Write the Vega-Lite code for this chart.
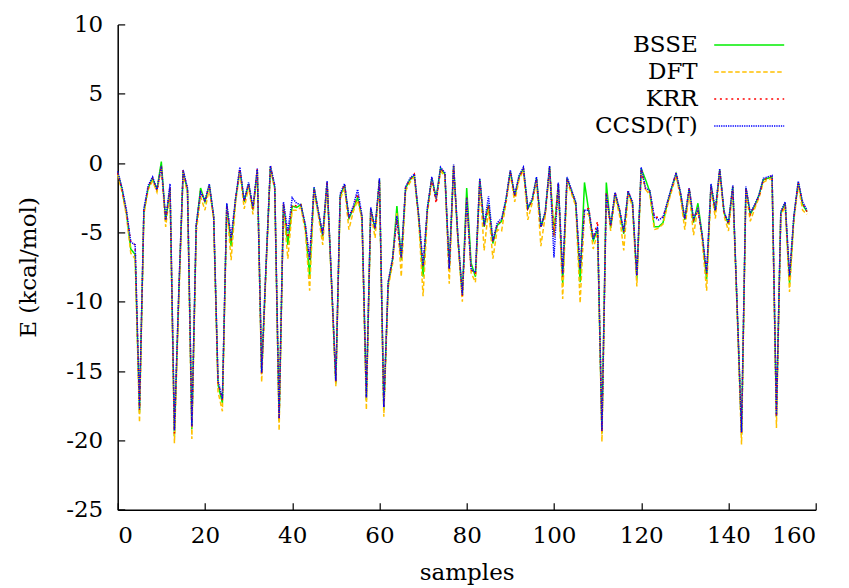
{
  "$schema": "https://vega.github.io/schema/vega-lite/v6.json",
  "width": 698,
  "height": 485.3,
  "autosize": "none",
  "padding": {"left": 117.7, "top": 24.4, "right": 33.3, "bottom": 78.3},
  "background": "white",
  "config": {
    "view": {"stroke": null},
    "font": "DejaVu Serif",
    "axis": {
      "grid": false,
      "domainColor": "black",
      "domainWidth": 1.5,
      "tickColor": "black",
      "tickWidth": 1.2,
      "tickSize": -7,
      "labelFont": "DejaVu Serif",
      "labelFontSize": 23,
      "labelColor": "black",
      "labelExpr": "'' + datum.value",
      "titleFont": "DejaVu Serif",
      "titleFontSize": 23,
      "titleFontWeight": "normal",
      "titleColor": "black"
    },
    "legend": {
      "labelFont": "DejaVu Serif",
      "labelFontSize": 23,
      "labelColor": "black"
    }
  },
  "data": {
    "values": [
      {"i":0,"BSSE":-0.7,"DFT":-0.8,"KRR":-0.7,"CCSD":-0.6},
      {"i":1,"BSSE":-1.9,"DFT":-2.1,"KRR":-1.9,"CCSD":-1.8},
      {"i":2,"BSSE":-3.6,"DFT":-3.8,"KRR":-3.5,"CCSD":-3.4},
      {"i":3,"BSSE":-6.2,"DFT":-6.5,"KRR":-5.7,"CCSD":-5.7},
      {"i":4,"BSSE":-6.6,"DFT":-6.9,"KRR":-5.9,"CCSD":-5.9},
      {"i":5,"BSSE":-18.0,"DFT":-18.7,"KRR":-17.8,"CCSD":-17.7},
      {"i":6,"BSSE":-3.5,"DFT":-3.7,"KRR":-3.4,"CCSD":-3.3},
      {"i":7,"BSSE":-1.8,"DFT":-1.9,"KRR":-1.7,"CCSD":-1.6},
      {"i":8,"BSSE":-1.1,"DFT":-1.3,"KRR":-1.1,"CCSD":-1.0},
      {"i":9,"BSSE":-1.9,"DFT":-2.1,"KRR":-2.0,"CCSD":-1.9},
      {"i":10,"BSSE":0.1,"DFT":-0.3,"KRR":-0.2,"CCSD":-0.2},
      {"i":11,"BSSE":-4.2,"DFT":-4.6,"KRR":-4.2,"CCSD":-4.1},
      {"i":12,"BSSE":-1.8,"DFT":-2.0,"KRR":-1.7,"CCSD":-1.5},
      {"i":13,"BSSE":-19.7,"DFT":-20.2,"KRR":-19.5,"CCSD":-19.3},
      {"i":14,"BSSE":-9.5,"DFT":-10.0,"KRR":-9.4,"CCSD":-9.3},
      {"i":15,"BSSE":-0.6,"DFT":-0.7,"KRR":-0.5,"CCSD":-0.5},
      {"i":16,"BSSE":-2.0,"DFT":-2.2,"KRR":-1.9,"CCSD":-1.8},
      {"i":17,"BSSE":-19.2,"DFT":-19.9,"KRR":-19.1,"CCSD":-19.0},
      {"i":18,"BSSE":-4.6,"DFT":-5.0,"KRR":-4.5,"CCSD":-4.4},
      {"i":19,"BSSE":-1.8,"DFT":-2.4,"KRR":-2.0,"CCSD":-2.1},
      {"i":20,"BSSE":-2.8,"DFT":-3.4,"KRR":-2.8,"CCSD":-2.7},
      {"i":21,"BSSE":-1.6,"DFT":-1.8,"KRR":-1.6,"CCSD":-1.5},
      {"i":22,"BSSE":-3.9,"DFT":-4.1,"KRR":-3.9,"CCSD":-3.8},
      {"i":23,"BSSE":-16.0,"DFT":-16.5,"KRR":-15.8,"CCSD":-15.7},
      {"i":24,"BSSE":-17.3,"DFT":-17.9,"KRR":-17.1,"CCSD":-17.0},
      {"i":25,"BSSE":-3.0,"DFT":-3.2,"KRR":-3.0,"CCSD":-2.9},
      {"i":26,"BSSE":-6.0,"DFT":-7.0,"KRR":-5.6,"CCSD":-5.4},
      {"i":27,"BSSE":-2.7,"DFT":-2.9,"KRR":-2.6,"CCSD":-2.6},
      {"i":28,"BSSE":-0.5,"DFT":-0.6,"KRR":-0.4,"CCSD":-0.3},
      {"i":29,"BSSE":-2.8,"DFT":-3.3,"KRR":-2.8,"CCSD":-2.7},
      {"i":30,"BSSE":-1.5,"DFT":-1.7,"KRR":-1.5,"CCSD":-1.4},
      {"i":31,"BSSE":-3.4,"DFT":-3.7,"KRR":-3.3,"CCSD":-3.2},
      {"i":32,"BSSE":-0.5,"DFT":-0.6,"KRR":-0.4,"CCSD":-0.4},
      {"i":33,"BSSE":-15.2,"DFT":-15.8,"KRR":-15.2,"CCSD":-15.1},
      {"i":34,"BSSE":-7.5,"DFT":-7.8,"KRR":-7.4,"CCSD":-7.4},
      {"i":35,"BSSE":-0.3,"DFT":-0.4,"KRR":-0.2,"CCSD":-0.2},
      {"i":36,"BSSE":-1.8,"DFT":-1.9,"KRR":-1.7,"CCSD":-1.6},
      {"i":37,"BSSE":-18.6,"DFT":-19.3,"KRR":-18.5,"CCSD":-18.4},
      {"i":38,"BSSE":-3.0,"DFT":-3.2,"KRR":-2.9,"CCSD":-2.8},
      {"i":39,"BSSE":-5.9,"DFT":-6.9,"KRR":-5.4,"CCSD":-5.0},
      {"i":40,"BSSE":-3.1,"DFT":-3.4,"KRR":-3.0,"CCSD":-2.5},
      {"i":41,"BSSE":-3.2,"DFT":-3.4,"KRR":-3.1,"CCSD":-2.9},
      {"i":42,"BSSE":-3.0,"DFT":-3.2,"KRR":-3.0,"CCSD":-3.0},
      {"i":43,"BSSE":-4.6,"DFT":-4.9,"KRR":-4.5,"CCSD":-4.4},
      {"i":44,"BSSE":-8.2,"DFT":-9.2,"KRR":-7.0,"CCSD":-6.9},
      {"i":45,"BSSE":-1.8,"DFT":-2.0,"KRR":-1.8,"CCSD":-1.7},
      {"i":46,"BSSE":-3.6,"DFT":-3.8,"KRR":-3.5,"CCSD":-3.5},
      {"i":47,"BSSE":-5.3,"DFT":-5.9,"KRR":-5.2,"CCSD":-5.1},
      {"i":48,"BSSE":-1.4,"DFT":-1.5,"KRR":-1.3,"CCSD":-1.3},
      {"i":49,"BSSE":-8.5,"DFT":-8.8,"KRR":-8.4,"CCSD":-8.4},
      {"i":50,"BSSE":-15.9,"DFT":-16.1,"KRR":-15.8,"CCSD":-15.7},
      {"i":51,"BSSE":-2.4,"DFT":-2.6,"KRR":-2.3,"CCSD":-2.2},
      {"i":52,"BSSE":-1.6,"DFT":-1.8,"KRR":-1.5,"CCSD":-1.5},
      {"i":53,"BSSE":-4.0,"DFT":-4.8,"KRR":-4.0,"CCSD":-3.9},
      {"i":54,"BSSE":-3.3,"DFT":-3.5,"KRR":-3.2,"CCSD":-3.1},
      {"i":55,"BSSE":-2.5,"DFT":-2.7,"KRR":-2.2,"CCSD":-1.9},
      {"i":56,"BSSE":-3.9,"DFT":-4.1,"KRR":-3.9,"CCSD":-3.8},
      {"i":57,"BSSE":-17.1,"DFT":-17.8,"KRR":-17.0,"CCSD":-16.9},
      {"i":58,"BSSE":-3.3,"DFT":-3.5,"KRR":-3.3,"CCSD":-3.2},
      {"i":59,"BSSE":-4.8,"DFT":-5.4,"KRR":-4.8,"CCSD":-4.7},
      {"i":60,"BSSE":-1.2,"DFT":-1.4,"KRR":-1.2,"CCSD":-1.1},
      {"i":61,"BSSE":-17.8,"DFT":-18.3,"KRR":-17.7,"CCSD":-17.6},
      {"i":62,"BSSE":-8.7,"DFT":-9.0,"KRR":-8.6,"CCSD":-8.6},
      {"i":63,"BSSE":-7.0,"DFT":-7.3,"KRR":-6.9,"CCSD":-6.9},
      {"i":64,"BSSE":-3.1,"DFT":-3.6,"KRR":-4.1,"CCSD":-3.8},
      {"i":65,"BSSE":-7.0,"DFT":-8.2,"KRR":-6.9,"CCSD":-6.8},
      {"i":66,"BSSE":-1.8,"DFT":-2.0,"KRR":-1.7,"CCSD":-1.7},
      {"i":67,"BSSE":-1.2,"DFT":-1.4,"KRR":-1.2,"CCSD":-1.1},
      {"i":68,"BSSE":-0.9,"DFT":-1.0,"KRR":-0.8,"CCSD":-0.8},
      {"i":69,"BSSE":-3.9,"DFT":-4.2,"KRR":-3.9,"CCSD":-3.8},
      {"i":70,"BSSE":-8.2,"DFT":-9.6,"KRR":-7.5,"CCSD":-7.4},
      {"i":71,"BSSE":-3.3,"DFT":-3.6,"KRR":-3.3,"CCSD":-3.2},
      {"i":72,"BSSE":-1.1,"DFT":-1.3,"KRR":-1.1,"CCSD":-1.0},
      {"i":73,"BSSE":-2.5,"DFT":-2.7,"KRR":-2.9,"CCSD":-2.6},
      {"i":74,"BSSE":-0.4,"DFT":-0.6,"KRR":-0.4,"CCSD":-0.3},
      {"i":75,"BSSE":-0.8,"DFT":-0.9,"KRR":-0.7,"CCSD":-0.7},
      {"i":76,"BSSE":-7.7,"DFT":-8.7,"KRR":-7.7,"CCSD":-7.6},
      {"i":77,"BSSE":-0.2,"DFT":-0.3,"KRR":-0.2,"CCSD":-0.1},
      {"i":78,"BSSE":-5.5,"DFT":-5.8,"KRR":-5.4,"CCSD":-5.4},
      {"i":79,"BSSE":-9.6,"DFT":-10.0,"KRR":-9.6,"CCSD":-9.5},
      {"i":80,"BSSE":-1.8,"DFT":-2.6,"KRR":-2.5,"CCSD":-2.5},
      {"i":81,"BSSE":-7.2,"DFT":-7.9,"KRR":-7.7,"CCSD":-7.6},
      {"i":82,"BSSE":-8.2,"DFT":-8.6,"KRR":-8.0,"CCSD":-7.9},
      {"i":83,"BSSE":-1.2,"DFT":-1.4,"KRR":-1.2,"CCSD":-1.1},
      {"i":84,"BSSE":-4.6,"DFT":-6.3,"KRR":-4.6,"CCSD":-4.5},
      {"i":85,"BSSE":-3.0,"DFT":-3.3,"KRR":-3.0,"CCSD":-2.4},
      {"i":86,"BSSE":-5.8,"DFT":-6.9,"KRR":-5.7,"CCSD":-5.6},
      {"i":87,"BSSE":-4.5,"DFT":-4.8,"KRR":-4.4,"CCSD":-4.3},
      {"i":88,"BSSE":-4.2,"DFT":-4.9,"KRR":-4.2,"CCSD":-4.0},
      {"i":89,"BSSE":-2.7,"DFT":-2.9,"KRR":-2.7,"CCSD":-2.6},
      {"i":90,"BSSE":-0.6,"DFT":-0.8,"KRR":-0.6,"CCSD":-0.5},
      {"i":91,"BSSE":-2.4,"DFT":-2.8,"KRR":-2.4,"CCSD":-2.3},
      {"i":92,"BSSE":-1.0,"DFT":-1.2,"KRR":-1.0,"CCSD":-0.9},
      {"i":93,"BSSE":-0.4,"DFT":-0.5,"KRR":-0.4,"CCSD":-0.3},
      {"i":94,"BSSE":-3.3,"DFT":-4.1,"KRR":-3.3,"CCSD":-3.2},
      {"i":95,"BSSE":-2.7,"DFT":-2.9,"KRR":-2.7,"CCSD":-2.6},
      {"i":96,"BSSE":-1.1,"DFT":-1.3,"KRR":-1.1,"CCSD":-1.0},
      {"i":97,"BSSE":-4.6,"DFT":-6.0,"KRR":-4.7,"CCSD":-4.6},
      {"i":98,"BSSE":-3.6,"DFT":-3.8,"KRR":-3.6,"CCSD":-3.5},
      {"i":99,"BSSE":-0.3,"DFT":-0.5,"KRR":-0.3,"CCSD":-0.2},
      {"i":100,"BSSE":-5.1,"DFT":-5.4,"KRR":-5.2,"CCSD":-6.8},
      {"i":101,"BSSE":-1.5,"DFT":-1.7,"KRR":-1.4,"CCSD":-1.4},
      {"i":102,"BSSE":-8.7,"DFT":-9.8,"KRR":-8.2,"CCSD":-8.0},
      {"i":103,"BSSE":-1.1,"DFT":-1.3,"KRR":-1.1,"CCSD":-1.0},
      {"i":104,"BSSE":-2.0,"DFT":-2.2,"KRR":-2.0,"CCSD":-1.9},
      {"i":105,"BSSE":-2.9,"DFT":-3.1,"KRR":-2.9,"CCSD":-2.8},
      {"i":106,"BSSE":-8.6,"DFT":-10.1,"KRR":-7.7,"CCSD":-7.6},
      {"i":107,"BSSE":-1.4,"DFT":-3.6,"KRR":-3.3,"CCSD":-3.4},
      {"i":108,"BSSE":-3.5,"DFT":-3.7,"KRR":-3.3,"CCSD":-3.4},
      {"i":109,"BSSE":-5.6,"DFT":-6.2,"KRR":-5.4,"CCSD":-5.5},
      {"i":110,"BSSE":-4.8,"DFT":-5.0,"KRR":-4.2,"CCSD":-4.6},
      {"i":111,"BSSE":-19.5,"DFT":-20.1,"KRR":-19.4,"CCSD":-19.3},
      {"i":112,"BSSE":-1.4,"DFT":-2.2,"KRR":-2.1,"CCSD":-2.2},
      {"i":113,"BSSE":-4.7,"DFT":-4.9,"KRR":-4.6,"CCSD":-4.5},
      {"i":114,"BSSE":-2.2,"DFT":-2.4,"KRR":-2.1,"CCSD":-2.1},
      {"i":115,"BSSE":-3.4,"DFT":-3.7,"KRR":-3.3,"CCSD":-3.3},
      {"i":116,"BSSE":-5.1,"DFT":-6.3,"KRR":-5.0,"CCSD":-4.9},
      {"i":117,"BSSE":-2.1,"DFT":-2.3,"KRR":-2.0,"CCSD":-2.0},
      {"i":118,"BSSE":-2.9,"DFT":-3.1,"KRR":-2.9,"CCSD":-2.8},
      {"i":119,"BSSE":-8.4,"DFT":-8.9,"KRR":-8.2,"CCSD":-8.1},
      {"i":120,"BSSE":-0.4,"DFT":-0.5,"KRR":-0.4,"CCSD":-0.3},
      {"i":121,"BSSE":-1.2,"DFT":-1.9,"KRR":-1.9,"CCSD":-1.8},
      {"i":122,"BSSE":-2.1,"DFT":-2.3,"KRR":-2.1,"CCSD":-2.0},
      {"i":123,"BSSE":-4.6,"DFT":-4.8,"KRR":-3.9,"CCSD":-3.9},
      {"i":124,"BSSE":-4.6,"DFT":-4.7,"KRR":-3.9,"CCSD":-4.1},
      {"i":125,"BSSE":-4.3,"DFT":-4.4,"KRR":-3.9,"CCSD":-3.9},
      {"i":126,"BSSE":-2.9,"DFT":-3.1,"KRR":-2.9,"CCSD":-2.8},
      {"i":127,"BSSE":-1.8,"DFT":-2.0,"KRR":-1.8,"CCSD":-1.7},
      {"i":128,"BSSE":-0.8,"DFT":-0.9,"KRR":-0.7,"CCSD":-0.7},
      {"i":129,"BSSE":-2.2,"DFT":-2.5,"KRR":-2.2,"CCSD":-2.1},
      {"i":130,"BSSE":-4.1,"DFT":-4.8,"KRR":-4.1,"CCSD":-4.0},
      {"i":131,"BSSE":-1.9,"DFT":-2.1,"KRR":-1.8,"CCSD":-1.8},
      {"i":132,"BSSE":-4.3,"DFT":-5.2,"KRR":-4.1,"CCSD":-4.0},
      {"i":133,"BSSE":-2.9,"DFT":-3.2,"KRR":-3.4,"CCSD":-3.3},
      {"i":134,"BSSE":-5.3,"DFT":-5.7,"KRR":-5.3,"CCSD":-5.2},
      {"i":135,"BSSE":-8.4,"DFT":-9.2,"KRR":-8.0,"CCSD":-7.9},
      {"i":136,"BSSE":-1.6,"DFT":-1.8,"KRR":-1.6,"CCSD":-1.5},
      {"i":137,"BSSE":-3.5,"DFT":-4.0,"KRR":-3.5,"CCSD":-3.4},
      {"i":138,"BSSE":-0.5,"DFT":-0.7,"KRR":-0.5,"CCSD":-0.4},
      {"i":139,"BSSE":-3.6,"DFT":-3.8,"KRR":-3.6,"CCSD":-3.5},
      {"i":140,"BSSE":-4.4,"DFT":-4.9,"KRR":-4.4,"CCSD":-4.3},
      {"i":141,"BSSE":-1.7,"DFT":-1.9,"KRR":-1.7,"CCSD":-1.6},
      {"i":142,"BSSE":-10.5,"DFT":-10.9,"KRR":-10.4,"CCSD":-10.4},
      {"i":143,"BSSE":-19.6,"DFT":-20.3,"KRR":-19.5,"CCSD":-19.4},
      {"i":144,"BSSE":-1.8,"DFT":-2.0,"KRR":-1.8,"CCSD":-1.7},
      {"i":145,"BSSE":-3.7,"DFT":-4.2,"KRR":-3.7,"CCSD":-3.6},
      {"i":146,"BSSE":-3.1,"DFT":-3.3,"KRR":-3.1,"CCSD":-3.0},
      {"i":147,"BSSE":-2.3,"DFT":-2.5,"KRR":-2.4,"CCSD":-2.3},
      {"i":148,"BSSE":-1.2,"DFT":-1.4,"KRR":-1.2,"CCSD":-1.1},
      {"i":149,"BSSE":-1.1,"DFT":-1.2,"KRR":-1.1,"CCSD":-1.0},
      {"i":150,"BSSE":-1.0,"DFT":-1.1,"KRR":-0.9,"CCSD":-0.9},
      {"i":151,"BSSE":-18.3,"DFT":-19.1,"KRR":-18.3,"CCSD":-18.2},
      {"i":152,"BSSE":-3.6,"DFT":-3.8,"KRR":-3.6,"CCSD":-3.5},
      {"i":153,"BSSE":-2.9,"DFT":-3.1,"KRR":-2.9,"CCSD":-2.8},
      {"i":154,"BSSE":-8.7,"DFT":-9.3,"KRR":-8.2,"CCSD":-8.1},
      {"i":155,"BSSE":-3.9,"DFT":-4.1,"KRR":-3.9,"CCSD":-3.8},
      {"i":156,"BSSE":-1.4,"DFT":-1.6,"KRR":-1.4,"CCSD":-1.3},
      {"i":157,"BSSE":-3.0,"DFT":-3.4,"KRR":-2.9,"CCSD":-2.8},
      {"i":158,"BSSE":-3.5,"DFT":-3.7,"KRR":-3.5,"CCSD":-3.4}
    ]
  },
  "transform": [
    {"fold": ["BSSE", "DFT", "KRR", "CCSD"], "as": ["series", "E"]}
  ],
  "encoding": {
    "x": {
      "field": "i", "type": "quantitative",
      "scale": {"domain": [0, 160], "nice": false, "zero": false},
      "axis": {
        "title": "samples",
        "values": [0, 20, 40, 60, 80, 100, 120, 140, 160],
        "labelPadding": 22,
        "titleY": 63,
        "titleBaseline": "middle"
      }
    },
    "y": {
      "field": "E", "type": "quantitative",
      "scale": {"domain": [-25, 10], "nice": false, "zero": false},
      "axis": {
        "title": "E (kcal/mol)",
        "values": [-25, -20, -15, -10, -5, 0, 5, 10],
        "labelPadding": 22,
        "titleX": -89.7,
        "titleY": 242.6,
        "titleAngle": -90,
        "titleAlign": "center",
        "titleBaseline": "middle"
      }
    },
    "color": {
      "field": "series", "type": "nominal",
      "scale": {
        "domain": ["BSSE", "DFT", "KRR", "CCSD"],
        "range": ["#00ee00", "#ffc000", "#ff0000", "#0000ff"]
      },
      "legend": {
        "title": null,
        "orient": "none",
        "legendX": 620,
        "legendY": 9,
        "symbolType": "M-7,0H7",
        "symbolSize": 100,
        "symbolStrokeWidth": 1.5,
        "labelAlign": "right",
        "labelOffset": -63,
        "rowPadding": 3,
        "padding": 0,
        "labelExpr": "datum.label === 'CCSD' ? 'CCSD(T)' : datum.label"
      }
    },
    "strokeDash": {
      "field": "series", "type": "nominal",
      "scale": {
        "domain": ["BSSE", "DFT", "KRR", "CCSD"],
        "range": [[1, 0], [4.5, 2.5], [2, 3.7], [1.3, 1]]
      },
      "legend": {
        "title": null,
        "orient": "none",
        "legendX": 620,
        "legendY": 9,
        "symbolType": "M-7,0H7",
        "symbolSize": 100,
        "symbolStrokeWidth": 1.5,
        "labelAlign": "right",
        "labelOffset": -63,
        "rowPadding": 3,
        "padding": 0,
        "labelExpr": "datum.label === 'CCSD' ? 'CCSD(T)' : datum.label"
      }
    }
  },
  "layer": [
    {"transform": [{"filter": "datum.series === 'BSSE'"}], "mark": {"type": "line", "strokeWidth": 1.5}},
    {"transform": [{"filter": "datum.series === 'DFT'"}], "mark": {"type": "line", "strokeWidth": 1.5}},
    {"transform": [{"filter": "datum.series === 'KRR'"}], "mark": {"type": "line", "strokeWidth": 1.5}},
    {"transform": [{"filter": "datum.series === 'CCSD'"}], "mark": {"type": "line", "strokeWidth": 1.5}}
  ]
}
